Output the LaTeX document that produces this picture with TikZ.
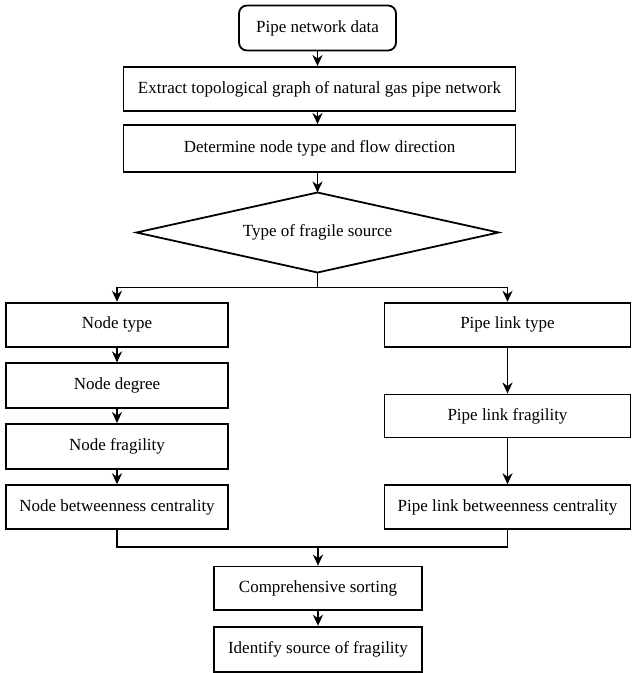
\documentclass[tikz,border=0pt]{standalone}
\usepackage{fontspec}
\setmainfont{Liberation Serif}
\usetikzlibrary{arrows.meta}
\begin{document}
\begin{tikzpicture}[x=1pt,y=-1pt,
  every node/.style={font=\fontsize{17}{20}\selectfont},
  box/.style={draw,line width=1.8pt,rectangle,inner sep=0pt,align=center},
  rbox/.style={box,rounded corners=8pt},
  link/.style={line width=1.8pt},
  arr/.style={link,-{Stealth[length=11pt,width=10pt,inset=3.5pt]}}]
\useasboundingbox (0,0) rectangle (632,673);
\node[rbox,minimum width=157pt,minimum height=45pt] (start) at (317.5,28) {Pipe network data};
\node[box,minimum width=392pt,minimum height=44pt] (extract) at (319.5,89) {Extract topological graph of natural gas pipe network};
\node[box,minimum width=392pt,minimum height=47pt] (determine) at (319.5,148.5) {Determine node type and flow direction};
\node[inner sep=0pt] (type) at (317.5,232.5) {Type of fragile source};
\coordinate (dtop) at (317.5,192.5);
\coordinate (dbot) at (317.5,272.5);
\coordinate (dleft) at (136.5,232.5);
\coordinate (dright) at (498.5,232.5);
\draw[link,line join=miter] (dtop) -- (dright) -- (dbot) -- (dleft) -- cycle;
\node[box,minimum width=222pt,minimum height=44pt] (ntype) at (117,324.7) {Node type};
\node[box,minimum width=222pt,minimum height=45pt] (ndeg) at (117,385.8) {Node degree};
\node[box,minimum width=222pt,minimum height=45pt] (nfrag) at (117,446.5) {Node fragility};
\node[box,minimum width=222pt,minimum height=44pt] (nbet) at (117,507.2) {Node betweenness centrality};
\node[box,minimum width=246pt,minimum height=44pt] (ptype) at (507.5,324.7) {Pipe link type};
\node[box,minimum width=246pt,minimum height=43pt] (pfrag) at (507.5,416) {Pipe link fragility};
\node[box,minimum width=246pt,minimum height=44pt] (pbet) at (507.5,507.2) {Pipe link betweenness centrality};
\node[box,minimum width=208pt,minimum height=43.5pt] (comp) at (318,588.3) {Comprehensive sorting};
\node[box,minimum width=208pt,minimum height=45pt] (ident) at (318,649.2) {Identify source of fragility};
\coordinate (split) at (317.5,287.5);
\coordinate (merge) at (318,547.3);
\draw[arr] (start) -- (start |- extract.north);
\draw[arr] (extract.south -| start) -- (start |- determine.north);
\draw[arr] (determine.south -| start) -- (dtop);
\draw[link] (dbot) -- (split);
\draw[arr] (split) -| (ntype.north);
\draw[arr] (split) -| (ptype.north);
\draw[arr] (ntype) -- (ndeg);
\draw[arr] (ndeg) -- (nfrag);
\draw[arr] (nfrag) -- (nbet);
\draw[arr] (ptype) -- (pfrag);
\draw[arr] (pfrag) -- (pbet);
\draw[link] (nbet.south) |- (merge) -| (pbet.south);
\draw[arr] (merge) -- (comp.north);
\draw[arr] (comp) -- (ident);
\end{tikzpicture}
\end{document}
